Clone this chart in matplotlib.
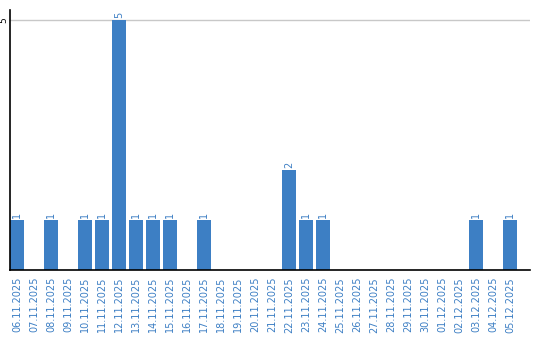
import numpy as np
import matplotlib.pyplot as plt

dates = ['06.11.2025', '07.11.2025', '08.11.2025', '09.11.2025', '10.11.2025',
         '11.11.2025', '12.11.2025', '13.11.2025', '14.11.2025', '15.11.2025',
         '16.11.2025', '17.11.2025', '18.11.2025', '19.11.2025', '20.11.2025',
         '21.11.2025', '22.11.2025', '23.11.2025', '24.11.2025', '25.11.2025',
         '26.11.2025', '27.11.2025', '28.11.2025', '29.11.2025', '30.11.2025',
         '01.12.2025', '02.12.2025', '03.12.2025', '04.12.2025', '05.12.2025']
counts = [1, 0, 1, 0, 1, 1, 5, 1, 1, 1, 0, 1, 0, 0, 0,
          0, 2, 1, 1, 0, 0, 0, 0, 0, 0, 0, 0, 1, 0, 1]

blue = '#3d7fc4'
fig = plt.figure(figsize=(5.4, 3.4), dpi=100)
ax = fig.add_axes([10/540, 1 - 270/340, 520/540, 260/340])

x = np.arange(len(dates))
ax.bar(x, counts, width=0.82, color=blue, zorder=2)
for xi, c in zip(x, counts):
    if c > 0:
        ax.text(xi, c + 0.04, str(c), rotation=90, ha='center', va='bottom',
                fontsize=7, color=blue)

ax.set_xlim(-0.41, 30.18)
ax.set_ylim(0, 5.2)
ax.set_yticks([5])
ax.set_yticklabels(['5'], rotation=90, va='center', fontsize=6.5)
ax.tick_params(axis='y', length=0, pad=1)
ax.grid(axis='y', color='#c8c8c8', linewidth=1, zorder=0)
ax.set_xticks(x)
ax.set_xticklabels(dates, rotation=90, fontsize=7, color=blue)
ax.tick_params(axis='x', length=0, pad=5)
for s in ['top', 'right']:
    ax.spines[s].set_visible(False)
ax.spines['left'].set_linewidth(1.2)
ax.spines['bottom'].set_linewidth(1.2)

fig.savefig('out.png', dpi=100)
